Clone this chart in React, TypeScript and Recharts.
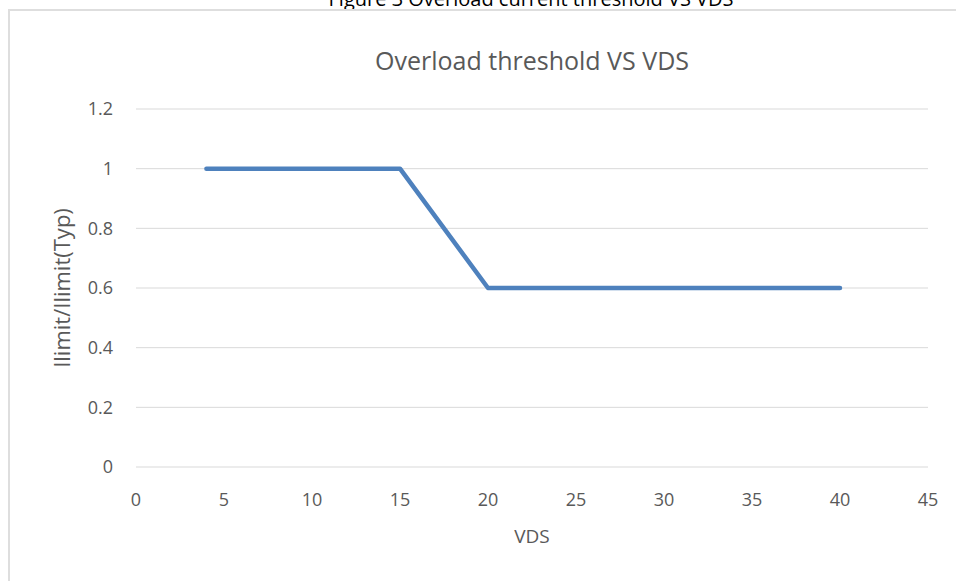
import { LineChart, Line, XAxis, YAxis, CartesianGrid } from 'recharts';

const vdsValues = [4, 15, 20, 40];
const ratioValues = [1, 1, 0.6, 0.6];
const xTicks = [0, 5, 10, 15, 20, 25, 30, 35, 40, 45];
const yTicks = [0, 0.2, 0.4, 0.6, 0.8, 1, 1.2];

const chartData = vdsValues.map((vds, i) => ({ vds, ratio: ratioValues[i] }));

const font = '"Open Sans", "Liberation Sans", sans-serif';
const grey = '#595959';

export default function App() {
  return (
    <div style={{ position: 'absolute', left: 0, top: 0, width: 956, height: 581, overflow: 'hidden', background: '#fff', fontFamily: font }}>
      {/* caption, mostly cut off at the top like in the source */}
      <div style={{ position: 'absolute', top: -15, left: 0, width: 1062, textAlign: 'center', fontSize: 20, color: '#000', fontFamily: font }}>
        Figure 3 Overload current threshold VS VDS
      </div>
      {/* chart frame */}
      <div style={{ position: 'absolute', left: 8, top: 9, width: 1000, height: 700, border: '2px solid #dedede', boxSizing: 'border-box' }} />

      <div style={{ position: 'absolute', left: 0, top: 43, width: 1064, textAlign: 'center', fontSize: 25, color: grey }}>
        Overload threshold VS VDS
      </div>
      <div style={{ position: 'absolute', left: 61, top: 288, transform: 'translate(-50%, -50%) rotate(-90deg)', whiteSpace: 'nowrap', fontSize: 22, color: grey }}>
        Ilimit/Ilimit(Typ)
      </div>
      <div style={{ position: 'absolute', left: 0, top: 523, width: 1064, textAlign: 'center', fontSize: 19, color: grey }}>
        VDS
      </div>

      <div style={{ position: 'absolute', left: 0, top: 0 }}>
        <LineChart width={956} height={581} data={chartData} margin={{ top: 109, right: 28, bottom: 74, left: 76 }}>
          <CartesianGrid horizontal vertical={false} stroke="#d9d9d9" strokeWidth={1} />
          <XAxis
            dataKey="vds"
            type="number"
            domain={[0, 45]}
            ticks={xTicks}
            axisLine={false}
            tickLine={false}
            tickSize={0}
            tickMargin={26}
            height={40}
            interval={0}
            tick={{ fill: grey, fontSize: 18, fontFamily: font }}
          />
          <YAxis
            type="number"
            domain={[0, 1.2]}
            ticks={yTicks}
            axisLine={false}
            tickLine={false}
            tickSize={0}
            tickMargin={23}
            width={60}
            interval={0}
            tick={{ fill: grey, fontSize: 18, fontFamily: font }}
          />
          <Line
            type="linear"
            dataKey="ratio"
            stroke="#4e81bd"
            strokeWidth={4.5}
            strokeLinecap="round"
            strokeLinejoin="round"
            dot={false}
            activeDot={false}
            isAnimationActive={false}
          />
        </LineChart>
      </div>
    </div>
  );
}
